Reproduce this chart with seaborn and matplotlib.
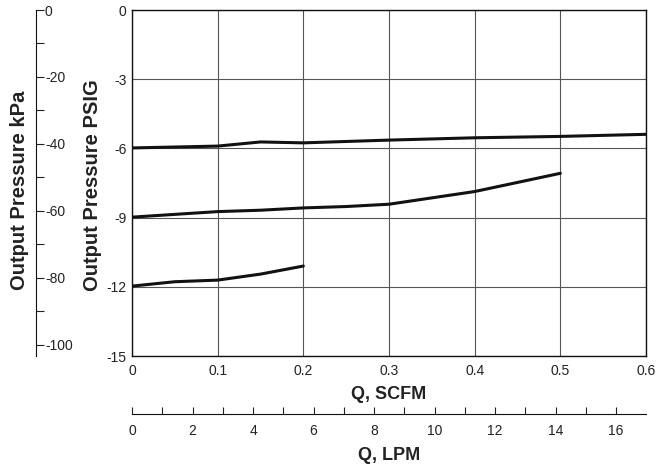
import numpy as np
import pandas as pd
import seaborn as sns
import matplotlib.pyplot as plt
from matplotlib.ticker import MultipleLocator

# curvas: vazão (SCFM) x pressão de saída (PSIG)
q_alta = [0.0, 0.1, 0.15, 0.2, 0.3, 0.4, 0.5, 0.6]
p_alta = [-5.98, -5.9, -5.72, -5.76, -5.64, -5.54, -5.48, -5.39]

q_media = [0.0, 0.1, 0.15, 0.2, 0.25, 0.3, 0.4, 0.5]
p_media = [-8.98, -8.74, -8.68, -8.58, -8.52, -8.42, -7.87, -7.08]

q_baixa = [0.0, 0.05, 0.1, 0.15, 0.2]
p_baixa = [-11.97, -11.78, -11.71, -11.45, -11.1]

psi_ticks = [0, -3, -6, -9, -12, -15]
scfm_ticks = [0, 0.1, 0.2, 0.3, 0.4, 0.5, 0.6]

KPA_POR_PSI = 6.89476
LPM_POR_SCFM = 28.3168

tabela = pd.concat([
    pd.DataFrame({"Q": q_alta, "P": p_alta, "curva": "alta"}),
    pd.DataFrame({"Q": q_media, "P": p_media, "curva": "media"}),
    pd.DataFrame({"Q": q_baixa, "P": p_baixa, "curva": "baixa"}),
])

sns.set_style("white")
plt.rcParams['font.family'] = ['Liberation Sans', 'DejaVu Sans']
plt.rcParams['axes.unicode_minus'] = False

fig = plt.figure(figsize=(6.68, 4.66), dpi=100)
ax = fig.add_axes([132/668, 110/466, 514/668, 346/466])

sns.lineplot(data=tabela, x="Q", y="P", hue="curva", units="curva", estimator=None,
             palette=["#111111"]*3, linewidth=2.2, legend=False, ax=ax, sort=False)

ax.set_xlim(0, 0.6)
ax.set_ylim(-15, 0)
ax.set_xticks(scfm_ticks)
ax.set_xticklabels(["0", "0.1", "0.2", "0.3", "0.4", "0.5", "0.6"])
ax.set_yticks(psi_ticks)
ax.set_yticklabels([str(t) for t in psi_ticks])
ax.grid(True, color="#555555", linewidth=0.8)
for s in ax.spines.values():
    s.set_visible(True)
    s.set_color("#111111")
    s.set_linewidth(1.0)
ax.tick_params(length=0, labelsize=10, colors="#222222", pad=6)
ax.tick_params(axis="y", pad=4)
ax.set_xlabel("Q, SCFM", fontsize=13, fontweight="bold", color="#222222")
ax.set_ylabel("Output Pressure PSIG", fontsize=14.5, fontweight="bold", color="#222222")
ax.xaxis.set_label_coords(0.5, -0.087)
ax.yaxis.set_label_coords(-0.058, 0.494)

# eixo em kPa à esquerda
ax_kpa = ax.twinx()
ax_kpa.set_ylim(-15*KPA_POR_PSI, 0)
ax_kpa.yaxis.set_major_locator(MultipleLocator(20))
ax_kpa.yaxis.set_minor_locator(MultipleLocator(10))
for nome, s in ax_kpa.spines.items():
    s.set_visible(nome == "right")
ax_kpa.spines["right"].set_position(("axes", -0.187))
ax_kpa.spines["right"].set_color("#111111")
ax_kpa.tick_params(axis="y", which="both", direction="out", length=6, width=0.8,
                   labelsize=10, colors="#222222", pad=0.5)
ax_kpa.yaxis.set_label_position("left")
ax_kpa.set_ylabel("Output Pressure kPa", fontsize=14.5, fontweight="bold", color="#222222")
ax_kpa.yaxis.set_label_coords(-0.2, 0.48)

# eixo em LPM embaixo
ax_lpm = ax.twiny()
ax_lpm.set_xlim(0, 0.6*LPM_POR_SCFM)
ax_lpm.xaxis.set_major_locator(MultipleLocator(2))
ax_lpm.xaxis.set_minor_locator(MultipleLocator(1))
for nome, s in ax_lpm.spines.items():
    s.set_visible(nome == "bottom")
ax_lpm.xaxis.set_ticks_position("bottom")
ax_lpm.xaxis.set_label_position("bottom")
ax_lpm.spines["bottom"].set_position(("axes", -0.168))
ax_lpm.spines["bottom"].set_color("#111111")
ax_lpm.tick_params(axis="x", which="both", direction="in", length=5, width=0.8,
                   labelsize=10, colors="#222222", pad=7)
ax_lpm.set_xlabel("Q, LPM", fontsize=13, fontweight="bold", color="#222222")
ax_lpm.xaxis.set_label_coords(0.5, -0.263)

fig.savefig("out.png", dpi=100)
